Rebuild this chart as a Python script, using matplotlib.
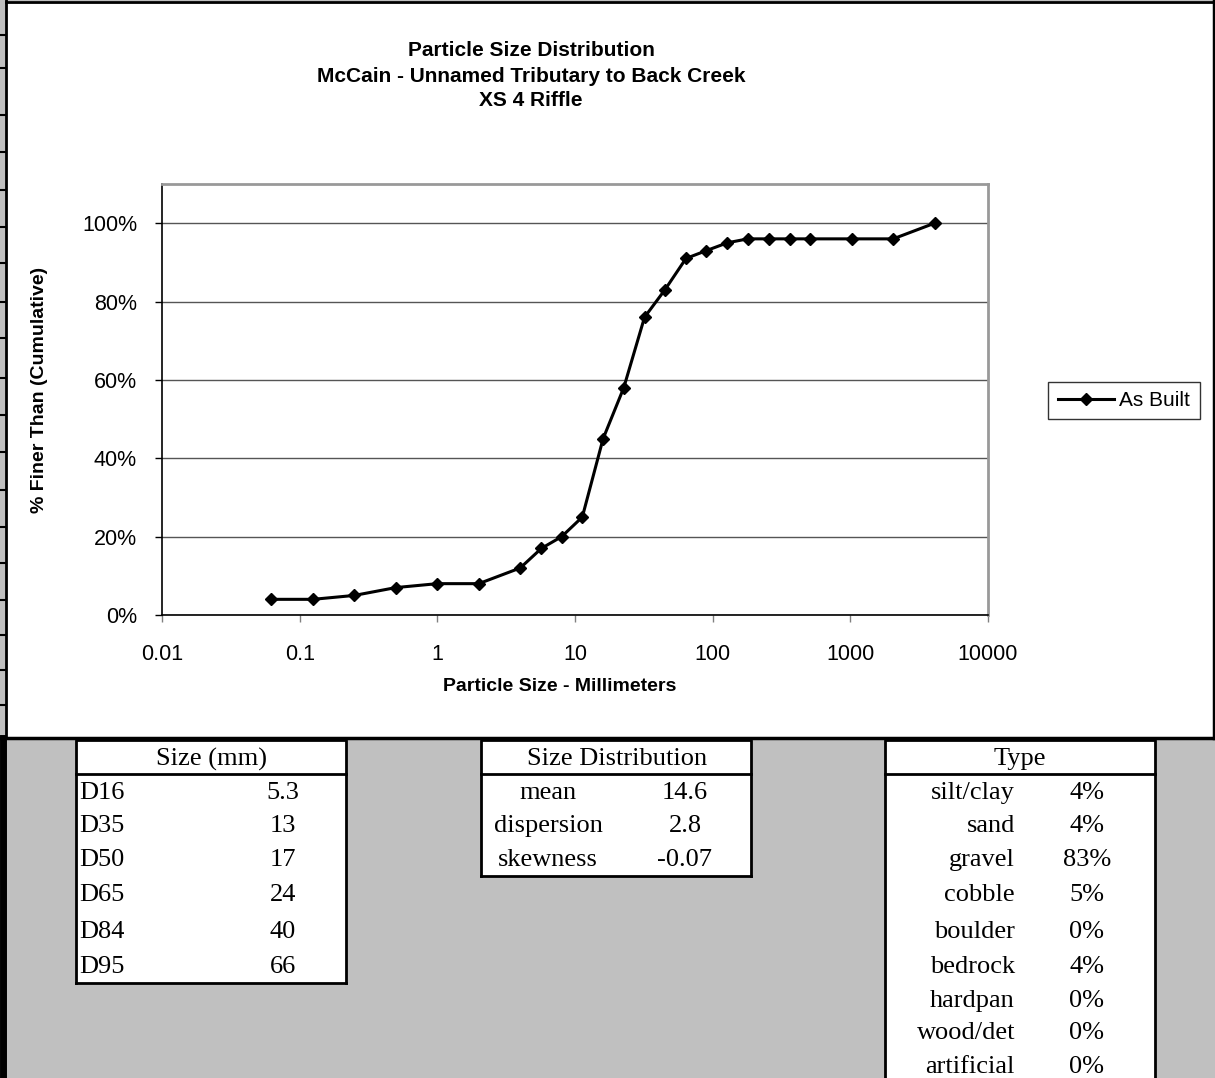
#! /usr/bin/env python3

"""
Particle size distribution for XS 4 riffle, with the summary tables below.
"""

import matplotlib
matplotlib.use("Agg")
import matplotlib.pyplot as plt
from matplotlib.patches import Rectangle
from matplotlib.ticker import FixedLocator, NullLocator, PercentFormatter

# sieve sizes (mm) and cumulative percent finer
size_mm = [0.062, 0.125, 0.25, 0.5, 1, 2, 4, 5.7, 8, 11.3, 16, 22.6, 32, 45,
           64, 90, 128, 180, 256, 362, 512, 1024, 2048, 4096]
pct_finer = [4, 4, 5, 7, 8, 8, 12, 17, 20, 25, 45, 58, 76, 83,
             91, 93, 95, 96, 96, 96, 96, 96, 96, 100]

x_ticks = [0.01, 0.1, 1, 10, 100, 1000, 10000]
x_tick_labels = ["0.01", "0.1", "1", "10", "100", "1000", "10000"]
y_ticks = [0, 20, 40, 60, 80, 100]

d_labels = ["D16", "D35", "D50", "D65", "D84", "D95"]
d_values = ["5.3", "13", "17", "24", "40", "66"]

dist_labels = ["mean", "dispersion", "skewness"]
dist_values = ["14.6", "2.8", "-0.07"]

type_labels = ["silt/clay", "sand", "gravel", "cobble", "boulder", "bedrock",
               "hardpan", "wood/det", "artificial"]
type_values = ["4%", "4%", "83%", "5%", "0%", "4%", "0%", "0%", "0%"]

W, H = 1215, 1078
SANS = "Liberation Sans"
SERIF = "Liberation Serif"
GRAY = "#c0c0c0"

fig = plt.figure(figsize=(W / 100, H / 100), dpi=100)

# sheet background drawn in pixel coordinates
bg = fig.add_axes([0, 0, 1, 1], zorder=0)
bg.set_xlim(0, W)
bg.set_ylim(H, 0)
bg.axis("off")

bg.add_patch(Rectangle((0, 0), W, H, facecolor=GRAY, edgecolor="none"))
# chart sheet
bg.add_patch(Rectangle((6, 1), W - 6, 737, facecolor="white", edgecolor="none"))
bg.plot([6, W], [1.5, 1.5], color="black", lw=2)
bg.plot([6, 6], [0, 738], color="black", lw=2)
bg.plot([W - 1.5, W - 1.5], [0, 738], color="black", lw=2.5)
bg.plot([0, W], [738, 738], color="black", lw=2.5)
# row header stubs down the left edge
for ry in [35, 68, 115, 152, 190, 227, 263, 302, 338, 378, 415, 452, 490,
           527, 563, 600, 635, 670, 705]:
    bg.plot([0, 5], [ry, ry], color="black", lw=1.5)
bg.plot([3, 3], [738, H], color="black", lw=5)
bg.add_patch(Rectangle((0, 885), 4, 27, facecolor="white", edgecolor="none"))

rows_y = [793, 826, 860, 895, 932, 967, 1001, 1033, 1067]
TFS = 19


def draw_table(x0, x1, y_bot, header, header_x, labels, label_x, label_ha,
               values, value_x):
    y_top, y_head = 740, 774
    bg.add_patch(Rectangle((x0, y_top), x1 - x0, y_bot - y_top,
                           facecolor="white", edgecolor="none"))
    bg.plot([x0, x0, x1, x1], [y_bot, y_top, y_top, y_bot], color="black",
            lw=2)
    if y_bot < H:
        bg.plot([x0, x1], [y_bot, y_bot], color="black", lw=2)
    bg.plot([x0, x1], [y_head, y_head], color="black", lw=2)
    bg.text(header_x, (y_top + y_head) / 2 + 2, header, ha="center",
            va="center", fontsize=TFS, family=SERIF)
    for i, (lab, val) in enumerate(zip(labels, values)):
        bg.text(label_x, rows_y[i], lab, ha=label_ha, va="center",
                fontsize=TFS, family=SERIF)
        bg.text(value_x, rows_y[i], val, ha="center", va="center",
                fontsize=TFS, family=SERIF)


draw_table(76, 346, 983, "Size (mm)", 212, d_labels, 79, "left", d_values, 283)
draw_table(481, 751, 876, "Size Distribution", 617, dist_labels, 548, "center",
           dist_values, 685)
draw_table(885, 1155, H + 5, "Type", 1020, type_labels, 1015, "right",
           type_values, 1087)

# chart
ax = fig.add_axes([162 / W, 1 - 615 / H, (988 - 162) / W, (615 - 184) / H],
                  zorder=2)
ax.plot(size_mm, pct_finer, color="black", lw=2.2, marker="D", ms=6.5,
        label="As Built")
ax.set_xscale("log")
ax.set_xlim(0.01, 10000)
ax.set_ylim(0, 110)
ax.xaxis.set_major_locator(FixedLocator(x_ticks))
ax.xaxis.set_minor_locator(NullLocator())
ax.set_xticklabels(x_tick_labels)
ax.set_yticks(y_ticks)
ax.yaxis.set_major_formatter(PercentFormatter(xmax=100, decimals=0))
ax.grid(axis="y", color="#555555", lw=1)
ax.set_axisbelow(True)

for side in ["top", "right"]:
    ax.spines[side].set_color("#999999")
    ax.spines[side].set_linewidth(2)
for side in ["left", "bottom"]:
    ax.spines[side].set_color("black")
    ax.spines[side].set_linewidth(1.2)
ax.tick_params(axis="x", direction="out", length=5, width=1, color="#808080",
               pad=16, labelsize=15.5)
ax.tick_params(axis="y", direction="out", length=5, width=1, color="black",
               pad=13, labelsize=15.5)
for lab in ax.get_xticklabels() + ax.get_yticklabels():
    lab.set_family(SANS)

ax.set_xlabel("Particle Size - Millimeters", fontsize=14, fontweight="bold",
              family=SANS)
ax.set_ylabel("% Finer Than (Cumulative)", fontsize=14, fontweight="bold",
              family=SANS)
ax.xaxis.set_label_coords(0.482, -0.147)
ax.yaxis.set_label_coords(-0.138, 0.522)

fig.text(531 / W, 1 - 76 / H,
         "Particle Size Distribution\n"
         "McCain - Unnamed Tributary to Back Creek\nXS 4 Riffle",
         ha="center", va="center", fontsize=15, fontweight="bold",
         family=SANS, linespacing=1.4)

leg = fig.legend(loc="center", bbox_to_anchor=(1124 / W, 1 - 400.5 / H),
                 fancybox=False, frameon=True, edgecolor="black",
                 handlelength=2.7, borderpad=0.45, handletextpad=0.25,
                 prop={"family": SANS, "size": 15})
leg.get_frame().set_linewidth(1)

fig.savefig("out.png", dpi=100)
